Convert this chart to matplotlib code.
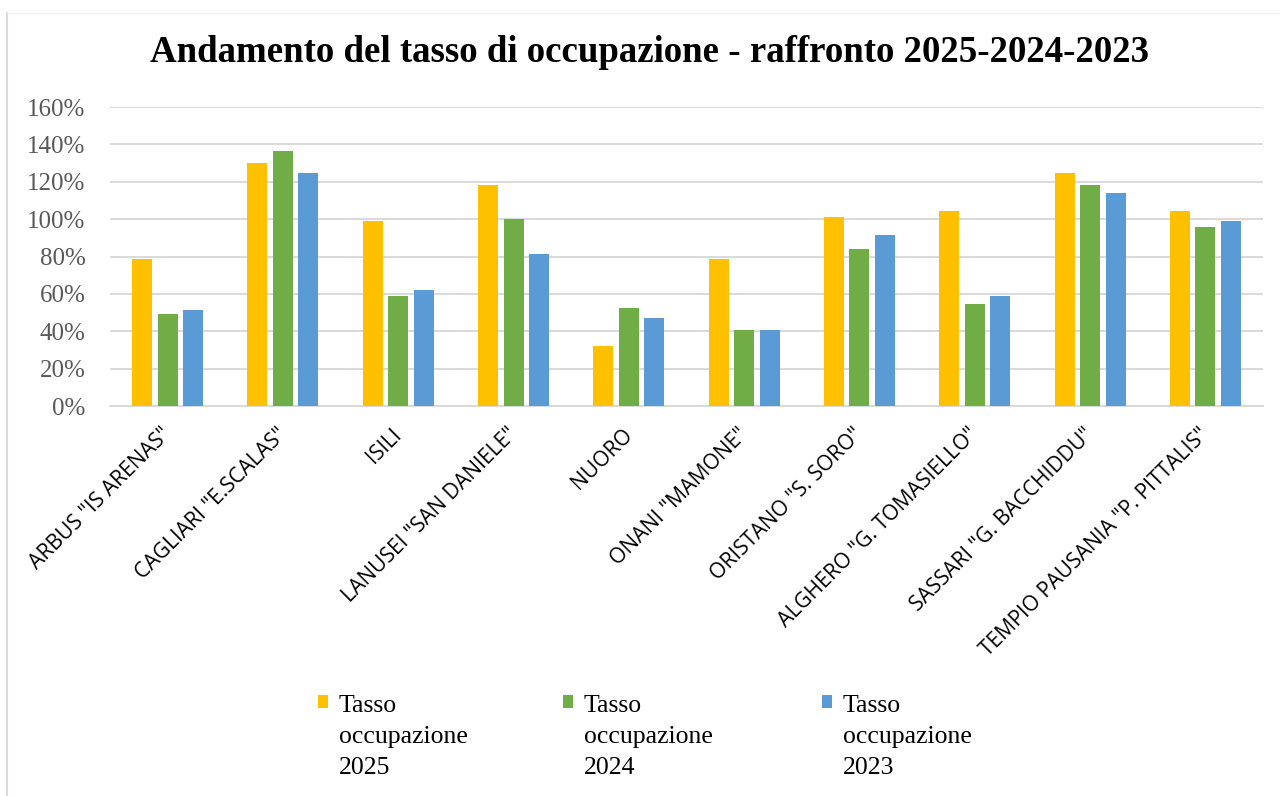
import matplotlib
matplotlib.use("Agg")
import matplotlib.pyplot as plt
import matplotlib.transforms as mtransforms
from matplotlib.lines import Line2D
from matplotlib.ticker import PercentFormatter
import numpy as np

categories = ['ARBUS "IS ARENAS"', 'CAGLIARI "E.SCALAS"', 'ISILI', 'LANUSEI "SAN DANIELE"',
              'NUORO', 'ONANI "MAMONE"', 'ORISTANO "S. SORO"', 'ALGHERO "G. TOMASIELLO"',
              'SASSARI "G. BACCHIDDU"', 'TEMPIO PAUSANIA "P. PITTALIS"']
tasso_2025 = [78.4, 130.0, 98.8, 118.2, 32.1, 78.4, 101.0, 104.2, 124.7, 104.2]
tasso_2024 = [49.3, 136.5, 59.0, 99.9, 52.6, 40.7, 83.8, 54.7, 118.2, 95.6]
tasso_2023 = [51.5, 124.7, 62.2, 81.6, 47.2, 40.7, 91.3, 59.0, 113.9, 98.8]
series_labels = ['Tasso\noccupazione\n2025', 'Tasso\noccupazione\n2024', 'Tasso\noccupazione\n2023']
colors = ['#FFC000', '#70AD47', '#5B9BD5']

serif = ['Liberation Serif', 'DejaVu Serif']
W, H = 1280, 796
fig = plt.figure(figsize=(W / 100, H / 100), dpi=100)
ax = fig.add_axes([110 / W, 1 - 406 / H, (1263 - 110) / W, (406 - 107) / H])

x = np.arange(len(categories))
step, width = 0.221, 0.173
bars = []
for i, (vals, c) in enumerate(zip([tasso_2025, tasso_2024, tasso_2023], colors)):
    bars.append(ax.bar(x + (i - 1) * step, vals, width, color=c, zorder=3))

ax.set_xlim(-0.5, len(categories) - 0.5)
ax.set_ylim(0, 160)
ax.set_yticks(np.arange(0, 161, 20))
ax.yaxis.set_major_formatter(PercentFormatter(decimals=0))
ax.grid(axis='y', color='#D9D9D9', linewidth=1.4, zorder=0)
for s in ['top', 'right', 'left']:
    ax.spines[s].set_visible(False)
ax.spines['bottom'].set_color('#D9D9D9')
ax.spines['bottom'].set_linewidth(1.4)
ax.tick_params(axis='both', length=0)
ax.tick_params(axis='y', pad=17.5, labelcolor='#595959')
for t in ax.get_yticklabels():
    t.set_family(serif)
    t.set_fontsize(18)

ax.set_xticks(x)
ax.set_xticklabels(categories, rotation=45, ha='right', va='top', rotation_mode='anchor',
                   family=['Open Sans', 'DejaVu Sans'], fontsize=15.2)
ax.tick_params(axis='x', pad=11)
shift = mtransforms.ScaledTranslation(-5 / 72, -2 / 72, fig.dpi_scale_trans)
for t in ax.get_xticklabels():
    t.set_transform(t.get_transform() + shift)

fig.text(650 / W, 1 - 52 / H, 'Andamento del tasso di occupazione - raffronto 2025-2024-2023',
         ha='center', va='center', family=serif, fontweight='bold', fontsize=26.6)

# legend: one entry per column, square aligned with first line
leg_x = [318, 563, 822]
for b, lab, lx in zip(bars, series_labels, leg_x):
    leg = fig.legend([b], [lab], loc='upper left', bbox_to_anchor=(lx / W, 1 - 695 / H),
                     frameon=False, prop={'family': serif, 'size': 18.5},
                     handlelength=0.4, handleheight=0.4, handletextpad=0.4,
                     borderpad=0, borderaxespad=0)
    try:
        for col in leg._legend_handle_box.get_children():
            for item in col.get_children():
                item.align = 'top'
    except AttributeError:
        pass
    for t in leg.get_texts():
        t.set_linespacing(1.52)

# chart frame edges
fig.add_artist(Line2D([7 / W, 7 / W], [0, 1 - 13 / H], transform=fig.transFigure,
                      color='#D9D9D9', linewidth=1.5))
fig.add_artist(Line2D([7 / W, 1], [1 - 13 / H, 1 - 13 / H], transform=fig.transFigure,
                      color='#F2F2F2', linewidth=1))

fig.savefig('out.png', dpi=100, facecolor='white')
